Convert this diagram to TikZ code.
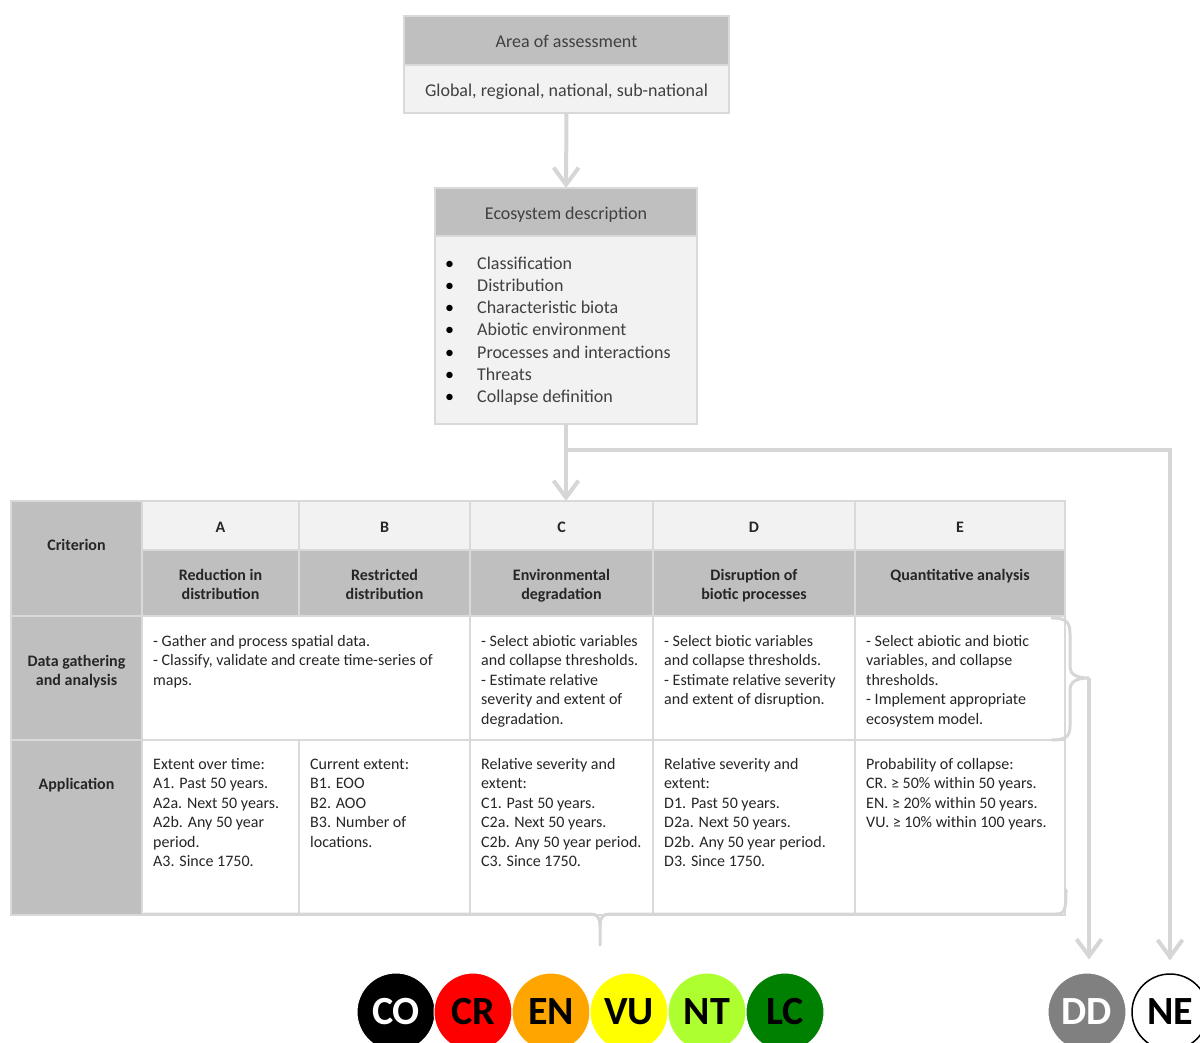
\documentclass[tikz,border=0pt]{standalone}
\usepackage{fontspec}
\setmainfont{Carlito}
\newfontfamily\circfont{Carlito}[BoldFont={* Bold}]
\usetikzlibrary{arrows.meta}
\definecolor{hdr}{HTML}{BFBFBF}
\definecolor{lite}{HTML}{F2F2F2}
\definecolor{bord}{HTML}{D9D9D9}
\definecolor{arrc}{HTML}{D6D6D6}
\definecolor{txt}{HTML}{262626}
\definecolor{txtg}{HTML}{404040}
\definecolor{cCO}{HTML}{000000}
\definecolor{cCR}{HTML}{FF0000}
\definecolor{cEN}{HTML}{FFA500}
\definecolor{cVU}{HTML}{FFFF00}
\definecolor{cNT}{HTML}{ADFF2F}
\definecolor{cLC}{HTML}{008000}
\definecolor{cDD}{HTML}{808080}
\newcommand\fl{\rule{0pt}{12pt}}
\newcommand\flb{\rule{0pt}{13.5pt}}
\newcommand\mkcell[6]{\node[cellbox,fill=#6,minimum width=#4-#2,minimum height=#5-#3] (#1) at (#2,#3) {};}
\begin{document}
\begin{tikzpicture}[x=1pt,y=-1pt,
  cellbox/.style={draw=bord,line width=2pt,inner sep=0pt,outer sep=0pt,anchor=north west,rectangle},
  boxcell/.style={draw=bord,line width=1.5pt,inner sep=0pt,outer sep=0pt,anchor=north west,rectangle},
  tabfont/.style={font=\fontsize{16}{19.5}\selectfont},
  celltext/.style={tabfont,anchor=north west,inner sep=0pt,align=left,text=txt},
  hdbase/.style={tabfont,font=\fontsize{16}{19.5}\selectfont\bfseries,anchor=base,inner sep=0pt,text=txt},
  hdtop/.style={font=\fontsize{16}{19.5}\selectfont\bfseries,anchor=north,inner sep=0pt,align=center,text=txt},
  boxtext/.style={font=\fontsize{18}{22.2}\selectfont,anchor=base,inner sep=0pt,text=txtg},
  arr/.style={draw=arrc,line width=4pt,-{Straight Barb[length=17pt,width=25pt,line width=4pt]}},
  brace/.style={draw=arrc,line width=3pt,line cap=round},
  cat/.style={circle,minimum size=78pt,inner sep=0pt,draw=white,line width=1pt,
    font=\circfont\fontsize{40}{40}\selectfont\bfseries}
]
\useasboundingbox (0,0) rectangle (1200,1043);

% top boxes
\node[boxcell,fill=hdr,minimum width=325,minimum height=49] (areaT) at (404,16) {};
\node[boxcell,fill=lite,minimum width=325,minimum height=48] (areaB) at (404,65) {};
\node[boxtext] (areaTt) at (566.5,48) {Area of assessment};
\node[boxtext] (areaBt) at (566.5,97) {Global, regional, national, sub-national};

\node[boxcell,fill=hdr,minimum width=262,minimum height=48] (ecoT) at (435,188) {};
\node[boxcell,fill=lite,minimum width=262,minimum height=188] (ecoB) at (435,236) {};
\node[boxtext] (ecoTt) at (566,220) {Ecosystem description};
\node[font=\fontsize{18}{22.2}\selectfont,anchor=north west,inner sep=0pt,align=left,text=txtg] (ecolist) at (445,255.5)
 {\flb\makebox[32pt][l]{\textcolor{black}{•}}Classification\\
  \makebox[32pt][l]{\textcolor{black}{•}}Distribution\\
  \makebox[32pt][l]{\textcolor{black}{•}}Characteristic biota\\
  \makebox[32pt][l]{\textcolor{black}{•}}Abiotic environment\\
  \makebox[32pt][l]{\textcolor{black}{•}}Processes and interactions\\
  \makebox[32pt][l]{\textcolor{black}{•}}Threats\\
  \makebox[32pt][l]{\textcolor{black}{•}}Collapse definition};

% table cells
\mkcell{lCrit}{11}{501}{142}{616}{hdr}
\mkcell{lData}{11}{616}{142}{740}{hdr}
\mkcell{lApp}{11}{740}{142}{915}{hdr}
\mkcell{cA}{142}{501}{299}{550}{lite}
\mkcell{cB}{299}{501}{470}{550}{lite}
\mkcell{cC}{470}{501}{653}{550}{lite}
\mkcell{cD}{653}{501}{855}{550}{lite}
\mkcell{cE}{855}{501}{1065}{550}{lite}
\mkcell{tA}{142}{550}{299}{616}{hdr}
\mkcell{tB}{299}{550}{470}{616}{hdr}
\mkcell{tC}{470}{550}{653}{616}{hdr}
\mkcell{tD}{653}{550}{855}{616}{hdr}
\mkcell{tE}{855}{550}{1065}{616}{hdr}
\mkcell{dAB}{142}{616}{470}{740}{white}
\mkcell{dC}{470}{616}{653}{740}{white}
\mkcell{dD}{653}{616}{855}{740}{white}
\mkcell{dE}{855}{616}{1065}{740}{white}
\mkcell{aA}{142}{740}{299}{915}{white}
\mkcell{aB}{299}{740}{470}{915}{white}
\mkcell{aC}{470}{740}{653}{915}{white}
\mkcell{aD}{653}{740}{855}{915}{white}
\mkcell{aE}{855}{740}{1065}{915}{white}

% left labels
\node[hdbase] (tCrit) at (76.5,550) {Criterion};
\node[hdtop] (tData) at (76.5,654) {\fl Data gathering\\and analysis};
\node[hdbase] (tApp) at (76.5,789) {Application};

% letters
\node[hdbase] (lA) at (220.5,532) {A};
\node[hdbase] (lB) at (384.5,532) {B};
\node[hdbase] (lC) at (561.5,532) {C};
\node[hdbase] (lD) at (754,532) {D};
\node[hdbase] (lE) at (960,532) {E};

% titles
\node[hdtop] (nA) at (220.5,568) {\fl Reduction in\\distribution};
\node[hdtop] (nB) at (384.5,568) {\fl Restricted\\distribution};
\node[hdtop] (nC) at (561.5,568) {\fl Environmental\\degradation};
\node[hdtop] (nD) at (754,568) {\fl Disruption of\\biotic processes};
\node[hdtop] (nE) at (960,568) {\fl Quantitative analysis};

% data gathering
\node[celltext] (xAB) at (153,634) {\fl - Gather and process spatial data.\\- Classify, validate and create time-series of\\maps.};
\node[celltext] (xC) at (481,634) {\fl - Select abiotic variables\\and collapse thresholds.\\- Estimate relative\\severity and extent of\\degradation.};
\node[celltext] (xD) at (664,634) {\fl - Select biotic variables\\and collapse thresholds.\\- Estimate relative severity\\and extent of disruption.};
\node[celltext] (xE) at (866,634) {\fl - Select abiotic and biotic\\variables, and collapse\\thresholds.\\- Implement appropriate\\ecosystem model.};

% application
\node[celltext] (yA) at (153,757) {\fl Extent over time:\\A1. Past 50 years.\\A2a. Next 50 years.\\A2b. Any 50 year\\period.\\A3. Since 1750.};
\node[celltext] (yB) at (310,757) {\fl Current extent:\\B1. EOO\\B2. AOO\\B3. Number of\\locations.};
\node[celltext] (yC) at (481,757) {\fl Relative severity and\\extent:\\C1. Past 50 years.\\C2a. Next 50 years.\\C2b. Any 50 year period.\\C3. Since 1750.};
\node[celltext] (yD) at (664,757) {\fl Relative severity and\\extent:\\D1. Past 50 years.\\D2a. Next 50 years.\\D2b. Any 50 year period.\\D3. Since 1750.};
\node[celltext] (yE) at (866,757) {\fl Probability of collapse:\\CR. ≥ 50\% within 50 years.\\EN. ≥ 20\% within 50 years.\\VU. ≥ 10\% within 100 years.};

% category circles
\node[cat,fill=cCO,text=white] (CO) at (396,1012) {CO};
\node[cat,fill=cCR,text=black] (CR) at (473,1012) {CR};
\node[cat,fill=cEN,text=black] (EN) at (551,1012) {EN};
\node[cat,fill=cVU,text=black] (VU) at (629,1012) {VU};
\node[cat,fill=cNT,text=black] (NT) at (707,1012) {NT};
\node[cat,fill=cLC,text=black] (LC) at (785,1012) {LC};
\node[cat,fill=cDD,text=white] (DD) at (1087,1012) {DD};
\node[cat,fill=white,draw=black,line width=1.5pt,minimum size=76pt,text=black] (NE) at (1170,1012) {NE};

% connectors
\draw[arr] (areaB.south) -- (ecoT.north);
\coordinate (split) at (566,450);
\draw[arr] (ecoB.south) -- (ecoB.south |- cC.north);
\draw[arrc,line width=4pt] (split) -| ([yshift=14pt]NE.north);
\draw[arr] (NE.north |- split) -- ([yshift=13pt]NE.north);

% right brace
\coordinate (brtip) at (1089,678);
\draw[brace] (1052,618) .. controls (1066,618) and (1070,622) .. (1070,634) -- (1070,667)
  .. controls (1070,674) and (1076,678) .. (brtip)
  .. controls (1076,678) and (1070,682) .. (1070,690) -- (1070,726)
  .. controls (1070,736) and (1066,740) .. (1052,740);
\coordinate (ddtip) at ([yshift=13pt]DD.north);
\draw[arr] (brtip) -- (brtip |- ddtip);

% bottom brace
\coordinate (bttip) at (600,945);
\draw[brace] (144,914) -- (590,914) .. controls (597,914) and (600,917) .. (600,926) -- (bttip);
\draw[brace] (600,926) .. controls (600,917) and (603,914) .. (610,914) -- (1056,914)
  .. controls (1065,914) and (1066,910) .. (1066,890);
\end{tikzpicture}
\end{document}
